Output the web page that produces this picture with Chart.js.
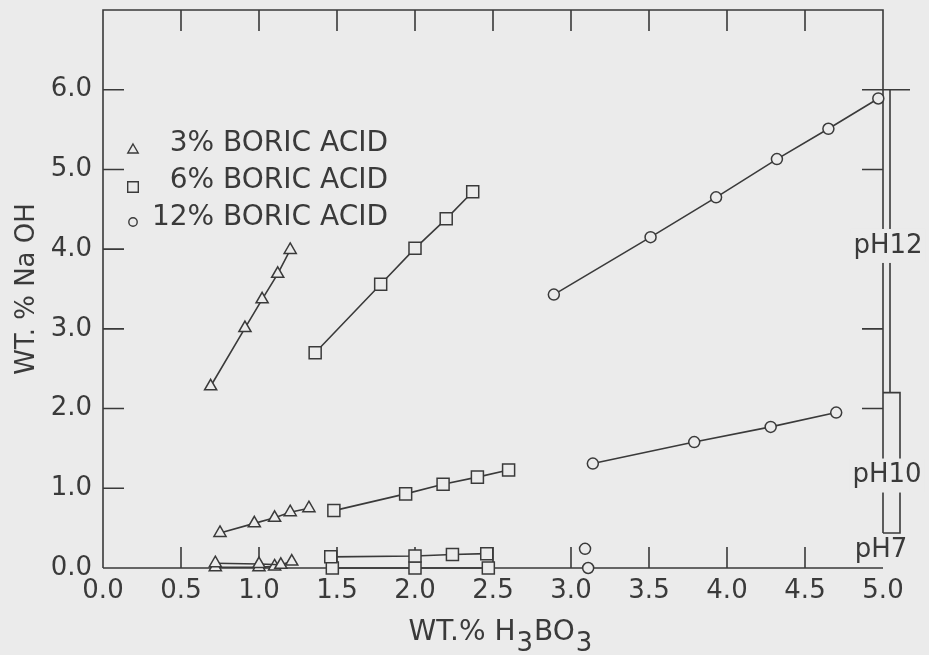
<!DOCTYPE html>
<html>
<head>
<meta charset="utf-8">
<script src="https://cdn.jsdelivr.net/npm/chart.js@4.4.1/dist/chart.umd.min.js"></script>
<style>
  html, body { margin: 0; padding: 0; background: #ebebeb; }
  canvas { display: block; }
</style>
</head>
<body>
<canvas id="myChart" width="929" height="655"></canvas>
<script>
// 3% boric acid
const tri12X = [0.69, 0.91, 1.02, 1.12, 1.20];
const tri12Y = [2.28, 3.01, 3.37, 3.69, 3.99];
const tri10X = [0.75, 0.97, 1.10, 1.20, 1.32];
const tri10Y = [0.44, 0.56, 0.63, 0.70, 0.75];
const tri7X = [0.72, 1.00, 1.14, 1.21];
const tri7Y = [0.06, 0.05, 0.04, 0.08];
const tri7bX = [0.72, 1.00, 1.10];
const tri7bY = [0.01, 0.01, 0.02];

// 6% boric acid
const sq12X = [1.36, 1.78, 2.00, 2.20, 2.37];
const sq12Y = [2.70, 3.56, 4.01, 4.38, 4.72];
const sq10X = [1.48, 1.94, 2.18, 2.40, 2.60];
const sq10Y = [0.72, 0.93, 1.05, 1.14, 1.23];
const sq7X = [1.46, 2.00, 2.24, 2.46];
const sq7Y = [0.14, 0.15, 0.17, 0.18];
const sq7bX = [1.47, 2.00, 2.47];
const sq7bY = [0.00, 0.00, 0.00];

// 12% boric acid
const ci12X = [2.89, 3.51, 3.93, 4.32, 4.65, 4.97];
const ci12Y = [3.43, 4.15, 4.65, 5.13, 5.51, 5.89];
const ci10X = [3.14, 3.79, 4.28, 4.70];
const ci10Y = [1.31, 1.58, 1.77, 1.95];
const ci7X = [3.09, 3.11];
const ci7Y = [0.24, 0.00];

const legendLabels = ['3% BORIC ACID', '6% BORIC ACID', '12% BORIC ACID'];
const legendStyles = ['triangle', 'rect', 'circle'];

// pH ranges marked on the right edge
const phLabels = ['pH12', 'pH10', 'pH7'];
const phTop = [6.0, 2.2];
const phBottom = [2.2, 0.44];
const phLabelAt = [4.04, 1.16, 0.22];

const ink = '#3a3a3a';
const paper = '#ebebeb';
const family = '"DejaVu Sans", sans-serif';

function pts(xs, ys) {
    return xs.map((v, i) => ({ x: v, y: ys[i] }));
}

function series(xs, ys, style, radius, line) {
    return {
        data: pts(xs, ys),
        showLine: line,
        borderColor: ink,
        borderWidth: 1.6,
        pointStyle: style,
        pointRadius: radius,
        pointBorderWidth: 1.5,
        pointBorderColor: ink,
        pointBackgroundColor: paper,
        clip: false
    };
}

const frame = {
    id: 'frame',
    beforeDatasetsDraw(chart) {
        const { ctx, chartArea: a, scales: { x, y } } = chart;
        const tick = 21;
        ctx.save();
        ctx.strokeStyle = ink;
        ctx.lineWidth = 1.6;
        ctx.beginPath();
        ctx.moveTo(a.left, a.bottom);
        ctx.lineTo(a.left, a.top);
        ctx.lineTo(a.right, a.top);
        ctx.lineTo(a.right, y.getPixelForValue(phBottom[1]));
        ctx.moveTo(a.left, a.bottom);
        ctx.lineTo(a.right, a.bottom);
        x.ticks.forEach(t => {
            if (t.value <= 0 || t.value >= 5) return;
            const px = x.getPixelForValue(t.value);
            ctx.moveTo(px, a.bottom);
            ctx.lineTo(px, a.bottom - tick);
            ctx.moveTo(px, a.top);
            ctx.lineTo(px, a.top + tick);
        });
        y.ticks.forEach(t => {
            if (t.value <= 0 || t.value >= 7) return;
            const py = y.getPixelForValue(t.value);
            ctx.moveTo(a.left, py);
            ctx.lineTo(a.left + tick, py);
            ctx.moveTo(a.right - tick, py);
            ctx.lineTo(t.value === 6 ? a.right + 27 : a.right, py);
        });
        // pH12 bracket
        ctx.moveTo(a.right + 7, y.getPixelForValue(phTop[0]));
        ctx.lineTo(a.right + 7, y.getPixelForValue(phBottom[0]));
        // pH10 bracket
        const t10 = y.getPixelForValue(phTop[1]);
        const b10 = y.getPixelForValue(phBottom[1]);
        ctx.moveTo(a.right, t10);
        ctx.lineTo(a.right + 17, t10);
        ctx.lineTo(a.right + 17, b10);
        ctx.lineTo(a.right, b10);
        ctx.stroke();
        ctx.restore();
    },
    afterDatasetsDraw(chart) {
        const { ctx, chartArea: a, scales: { y } } = chart;
        ctx.save();
        ctx.font = '26px ' + family;
        ctx.textAlign = 'center';
        ctx.textBaseline = 'middle';
        const offs = [5, 4, -2];
        phLabels.forEach((lab, i) => {
            const cx = a.right + offs[i];
            const cy = y.getPixelForValue(phLabelAt[i]);
            const w = ctx.measureText(lab).width;
            ctx.fillStyle = paper;
            if (i < 2) ctx.fillRect(cx - w / 2 - 3, cy - 17, w + 6, 34);
            ctx.fillStyle = ink;
            ctx.fillText(lab, cx, cy);
        });

        // legend
        ctx.font = '28px ' + family;
        ctx.textAlign = 'right';
        const rows = [144, 181, 218];
        const marks = [150, 187, 222];
        const sizes = [6, 7.5, 4.2];
        legendLabels.forEach((lab, i) => {
            ctx.fillStyle = ink;
            ctx.fillText(lab, a.left + 285, rows[i]);
            ctx.strokeStyle = ink;
            ctx.lineWidth = 1.4;
            ctx.fillStyle = paper;
            Chart.helpers.drawPoint(ctx, { pointStyle: legendStyles[i], radius: sizes[i], rotation: 0, borderWidth: 1.4 }, a.left + 30, marks[i]);
        });

        // x axis title with lowered subscripts
        const parts = [['WT.% H', 0, 28], ['3', 11, 26], ['BO', 0, 28], ['3', 11, 26]];
        ctx.textAlign = 'left';
        ctx.textBaseline = 'alphabetic';
        let total = 0;
        parts.forEach(p => { ctx.font = p[2] + 'px ' + family; total += ctx.measureText(p[0]).width + 1; });
        let tx = (a.left + a.right) / 2 + 8 - total / 2;
        parts.forEach(p => {
            ctx.font = p[2] + 'px ' + family;
            ctx.fillStyle = ink;
            ctx.fillText(p[0], tx, 640 + p[1]);
            tx += ctx.measureText(p[0]).width + 1;
        });
        ctx.restore();
    }
};

new Chart(document.getElementById('myChart'), {
    type: 'scatter',
    data: {
        datasets: [
            series(tri12X, tri12Y, 'triangle', 7, true),
            series(tri10X, tri10Y, 'triangle', 7, true),
            series(tri7X, tri7Y, 'triangle', 7, true),
            series(tri7bX, tri7bY, 'triangle', 7, true),
            series(sq12X, sq12Y, 'rect', 8.5, true),
            series(sq10X, sq10Y, 'rect', 8.5, true),
            series(sq7X, sq7Y, 'rect', 8.5, true),
            series(sq7bX, sq7bY, 'rect', 8.5, true),
            series(ci12X, ci12Y, 'circle', 5.5, true),
            series(ci10X, ci10Y, 'circle', 5.5, true),
            series(ci7X, ci7Y, 'circle', 5.5, false)
        ]
    },
    options: {
        responsive: false,
        animation: false,
        layout: { padding: { top: 10, right: 46, left: 0, bottom: 0 } },
        plugins: {
            legend: { display: false },
            tooltip: { enabled: false }
        },
        scales: {
            x: {
                type: 'linear',
                min: 0,
                max: 5,
                afterFit: s => { s.height = 87; s.paddingLeft = 0; s.paddingRight = 0; },
                grid: { display: false, drawTicks: false },
                border: { display: false },
                ticks: {
                    stepSize: 0.5,
                    padding: 8,
                    color: ink,
                    font: { family: family, size: 26 },
                    maxRotation: 0,
                    autoSkip: false,
                    callback: v => v.toFixed(1)
                },
                title: { display: false }
            },
            y: {
                min: 0,
                max: 7,
                afterFit: s => { s.width = 103; s.paddingTop = 0; s.paddingBottom = 0; },
                grid: { display: false, drawTicks: false },
                border: { display: false },
                ticks: {
                    stepSize: 1,
                    padding: 11,
                    color: ink,
                    font: { family: family, size: 26 },
                    callback: v => (v <= 6 ? v.toFixed(1) : '')
                },
                title: {
                    display: true,
                    text: 'WT. % Na OH',
                    color: ink,
                    font: { family: family, size: 26 },
                    padding: { top: 12, bottom: 0 }
                }
            }
        }
    },
    plugins: [frame]
});
</script>
</body>
</html>
